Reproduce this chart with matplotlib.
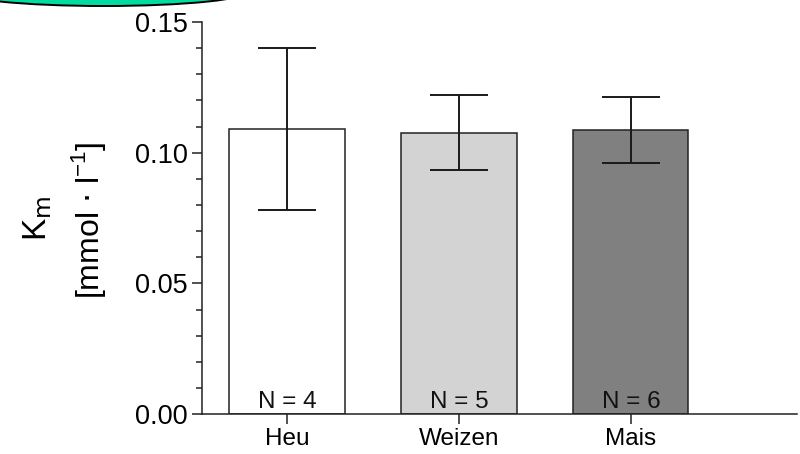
import matplotlib
matplotlib.use("Agg")
import matplotlib.pyplot as plt
from matplotlib.patches import Ellipse
from matplotlib.ticker import MultipleLocator

# data
categories = ["Heu", "Weizen", "Mais"]
km_mean = [0.1092, 0.1077, 0.1087]
km_sd = [0.0310, 0.0143, 0.0128]
n_labels = ["N = 4", "N = 5", "N = 6"]
bar_colors = ["#ffffff", "#d3d3d3", "#808080"]

plt.rcParams["font.family"] = ["Liberation Sans", "DejaVu Sans"]

fig = plt.figure(figsize=(8, 4.54), dpi=100)
ax = fig.add_axes([0.2525, 0.088, 0.7435, 0.8635])

x = list(range(len(categories)))
ax.bar(x, km_mean, width=0.67, color=bar_colors, edgecolor="#222222", linewidth=1.1,
       zorder=2)
ax.errorbar(x, km_mean, yerr=km_sd, fmt="none", ecolor="#1a1a1a", elinewidth=1.4,
            capsize=21, capthick=1.4, zorder=3)

for xi, lab in zip(x, n_labels):
    ax.text(xi, 0.0005, lab, ha="center", va="bottom", fontsize=17.5, color="#111111",
            zorder=4)

ax.set_xlim(-0.494, 2.965)
ax.set_ylim(0, 0.15)
ax.set_xticks(x)
ax.set_xticklabels(categories, fontsize=17.5)
ax.yaxis.set_major_locator(MultipleLocator(0.05))
ax.yaxis.set_minor_locator(MultipleLocator(0.01))
ax.set_yticklabels([f"{v:.2f}" for v in ax.get_yticks()], fontsize=19.5)

for s in ["top", "right"]:
    ax.spines[s].set_visible(False)
for s in ["left", "bottom"]:
    ax.spines[s].set_linewidth(1.1)
    ax.spines[s].set_color("#222222")
ax.tick_params(axis="both", which="major", length=7, width=1.1, color="#222222", pad=3)
ax.tick_params(axis="y", which="minor", length=4.5, width=1.1, color="#222222")
ax.tick_params(axis="x", which="major", pad=3)

fig.text(0.047, 0.52, r"K$_\mathrm{m}$", rotation=90, ha="center", va="center",
         fontsize=24)
fig.text(0.11, 0.515, r"[mmol $\cdot$ l$^{\mathregular{-1}}$]", rotation=90,
         ha="center", va="center", fontsize=23)

# green shape cut off at the top-left corner
blob = Ellipse((104, 463), 292, 30, transform=None, facecolor="#00dba0",
               edgecolor="black", linewidth=1.4, clip_on=False)
fig.patches.append(blob)

fig.savefig("out.png", dpi=100)
